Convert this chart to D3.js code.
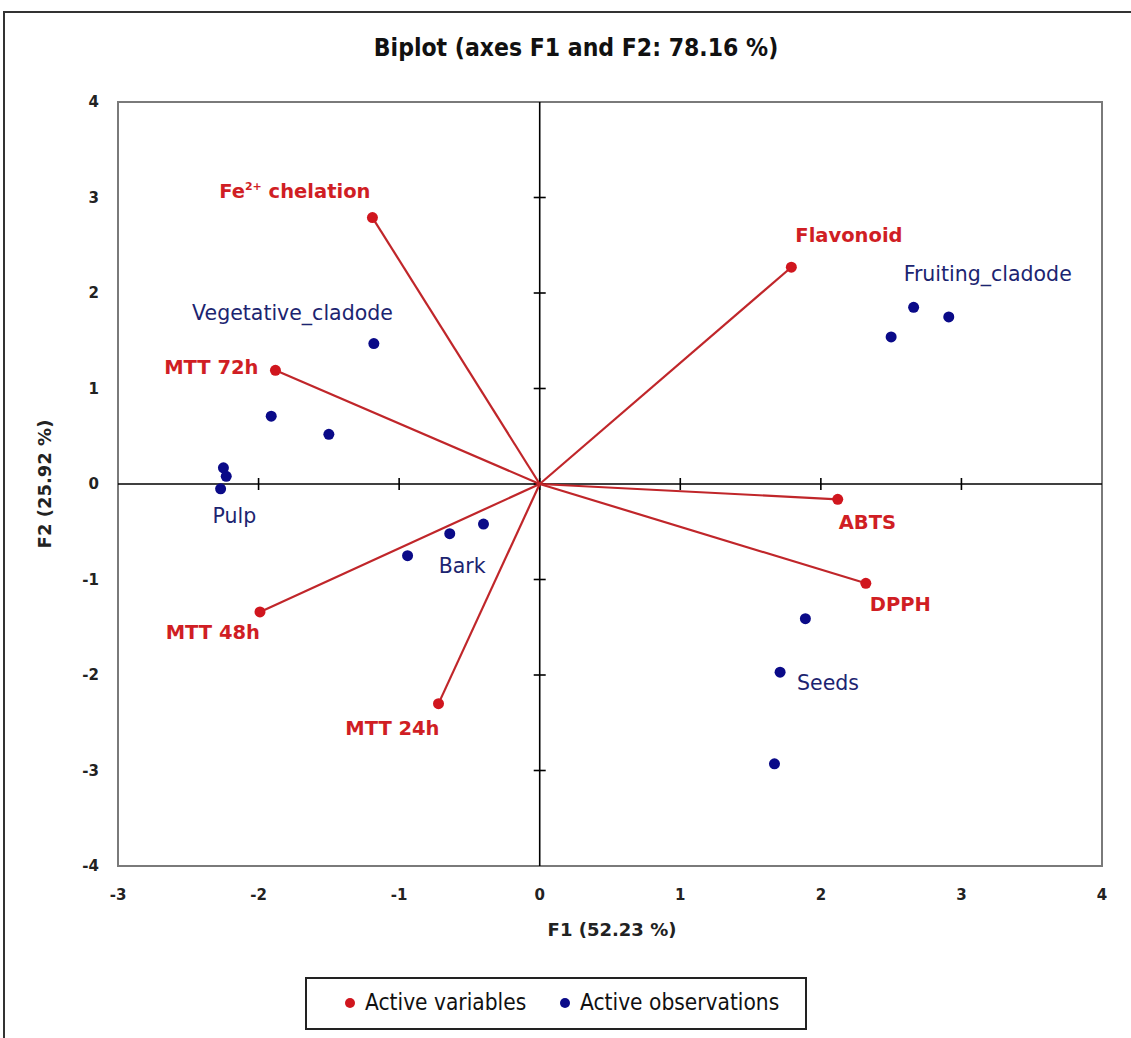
<!DOCTYPE html>
<html>
<head>
<meta charset="utf-8">
<script src="https://cdn.jsdelivr.net/npm/d3@7"></script>
<style>
  html, body { margin: 0; padding: 0; background: #fff; }
  svg { display: block; }
</style>
</head>
<body>
<svg id="chart" width="1131" height="1038"></svg>
<script>
// Active variables: PCA loadings on F1 / F2
const variableNames = ["Fe2+ chelation", "MTT 72h", "Flavonoid", "ABTS", "DPPH", "MTT 48h", "MTT 24h"];
const variableF1 = [-1.19, -1.88, 1.79, 2.12, 2.32, -1.99, -0.72];
const variableF2 = [2.79, 1.19, 2.27, -0.16, -1.04, -1.34, -2.30];

// Active observations: scores on F1 / F2, grouped by plant part
const observationGroup = [
  "Vegetative_cladode", "Vegetative_cladode", "Vegetative_cladode",
  "Pulp", "Pulp", "Pulp",
  "Bark", "Bark", "Bark",
  "Fruiting_cladode", "Fruiting_cladode", "Fruiting_cladode",
  "Seeds", "Seeds", "Seeds"
];
const observationF1 = [-1.18, -1.91, -1.50, -2.25, -2.23, -2.27, -0.40, -0.64, -0.94, 2.66, 2.91, 2.50, 1.89, 1.71, 1.67];
const observationF2 = [1.47, 0.71, 0.52, 0.17, 0.08, -0.05, -0.42, -0.52, -0.75, 1.85, 1.75, 1.54, -1.41, -1.97, -2.93];

// Axis ticks
const xTicks = [-3, -2, -1, 0, 1, 2, 3, 4];
const yTicks = [-4, -3, -2, -1, 0, 1, 2, 3, 4];

const titleText = "Biplot (axes F1 and F2: 78.16 %)";
const xTitle = "F1 (52.23 %)";
const yTitle = "F2 (25.92 %)";
const legendItems = ["Active variables", "Active observations"];

const RED = "#d0161e";
const LINE_RED = "#c0262a";
const BLUE = "#0a0a88";
const RED_TEXT = "#d01e24";
const BLUE_TEXT = "#1c2470";

const svg = d3.select("#chart");

const plot = { left: 118, right: 1102, top: 102, bottom: 866 };
const x = d3.scaleLinear().domain([-3, 4]).range([plot.left, plot.right]);
const y = d3.scaleLinear().domain([-4, 4]).range([plot.bottom, plot.top]);

// outer frame
svg.append("rect")
  .attr("x", 4).attr("y", 12)
  .attr("width", 1140).attr("height", 1040)
  .attr("fill", "none").attr("stroke", "#333").attr("stroke-width", 2);

// title
svg.append("text")
  .attr("x", 576).attr("y", 56)
  .attr("text-anchor", "middle")
  .attr("font-family", "'Liberation Sans Narrow', 'DejaVu Sans Condensed', Arial, sans-serif")
  .attr("font-weight", "bold")
  .attr("font-size", 24.5)
  .attr("fill", "#111")
  .text(titleText);

// plot frame
svg.append("rect")
  .attr("x", plot.left).attr("y", plot.top)
  .attr("width", plot.right - plot.left).attr("height", plot.bottom - plot.top)
  .attr("fill", "none").attr("stroke", "#7a7a7a").attr("stroke-width", 2);

// tick labels
const tickFont = "'DejaVu Sans', Verdana, sans-serif";
svg.append("g").selectAll("text").data(xTicks).join("text")
  .attr("x", d => x(d)).attr("y", 900)
  .attr("text-anchor", "middle")
  .attr("font-family", tickFont).attr("font-weight", "bold").attr("font-size", 15)
  .attr("fill", "#222")
  .text(d => d);

svg.append("g").selectAll("text").data(yTicks).join("text")
  .attr("x", 99).attr("y", d => y(d) + 5)
  .attr("text-anchor", "end")
  .attr("font-family", tickFont).attr("font-weight", "bold").attr("font-size", 15)
  .attr("fill", "#222")
  .text(d => d);

// zero axes with cross ticks
const zeroAxes = svg.append("g");
zeroAxes.append("line")
  .attr("x1", x(0)).attr("x2", x(0)).attr("y1", plot.top).attr("y2", plot.bottom)
  .attr("stroke", "#000").attr("stroke-width", 1.6);
zeroAxes.append("line")
  .attr("x1", plot.left).attr("x2", plot.right).attr("y1", y(0)).attr("y2", y(0))
  .attr("stroke", "#000").attr("stroke-width", 1.6);
zeroAxes.append("g").selectAll("line").data(yTicks.filter(d => d > -4 && d < 4)).join("line")
  .attr("x1", x(0) - 6).attr("x2", x(0) + 6)
  .attr("y1", d => y(d)).attr("y2", d => y(d))
  .attr("stroke", "#000").attr("stroke-width", 1.6);
zeroAxes.append("g").selectAll("line").data(xTicks.filter(d => d > -3 && d < 4)).join("line")
  .attr("x1", d => x(d)).attr("x2", d => x(d))
  .attr("y1", y(0) - 6).attr("y2", y(0) + 6)
  .attr("stroke", "#000").attr("stroke-width", 1.6);

// axis titles
svg.append("text")
  .attr("x", 612).attr("y", 936)
  .attr("text-anchor", "middle")
  .attr("font-family", tickFont).attr("font-weight", "bold").attr("font-size", 18)
  .attr("fill", "#222")
  .text(xTitle);
svg.append("text")
  .attr("transform", `translate(51, ${y(0)}) rotate(-90)`)
  .attr("text-anchor", "middle")
  .attr("font-family", tickFont).attr("font-weight", "bold").attr("font-size", 18)
  .attr("fill", "#222")
  .text(yTitle);

// variable vectors
const variables = variableNames.map((name, i) => ({ name, f1: variableF1[i], f2: variableF2[i] }));
const observations = observationGroup.map((g, i) => ({ group: g, f1: observationF1[i], f2: observationF2[i] }));

svg.append("g").selectAll("line").data(variables).join("line")
  .attr("x1", x(0)).attr("y1", y(0))
  .attr("x2", d => x(d.f1)).attr("y2", d => y(d.f2))
  .attr("stroke", LINE_RED).attr("stroke-width", 2.2);

svg.append("g").selectAll("circle").data(variables).join("circle")
  .attr("cx", d => x(d.f1)).attr("cy", d => y(d.f2)).attr("r", 5.5)
  .attr("fill", RED);

svg.append("g").selectAll("circle").data(observations).join("circle")
  .attr("cx", d => x(d.f1)).attr("cy", d => y(d.f2)).attr("r", 5.5)
  .attr("fill", BLUE);

// variable labels: offset from each vector tip
const varLabelPlacement = {
  "Fe2+ chelation": { dx: -2, dy: -20, anchor: "end" },
  "MTT 72h": { dx: -17, dy: 4, anchor: "end" },
  "Flavonoid": { dx: 4, dy: -25, anchor: "start" },
  "ABTS": { dx: 1, dy: 30, anchor: "start" },
  "DPPH": { dx: 4, dy: 28, anchor: "start" },
  "MTT 48h": { dx: 0, dy: 27, anchor: "end" },
  "MTT 24h": { dx: 1, dy: 31, anchor: "end" }
};
const labelFont = "'DejaVu Sans', Verdana, sans-serif";
const varLabels = svg.append("g").selectAll("text").data(variables).join("text")
  .attr("x", d => x(d.f1) + varLabelPlacement[d.name].dx)
  .attr("y", d => y(d.f2) + varLabelPlacement[d.name].dy)
  .attr("text-anchor", d => varLabelPlacement[d.name].anchor)
  .attr("font-family", labelFont).attr("font-weight", "bold").attr("font-size", 19.5)
  .attr("fill", RED_TEXT);
varLabels.each(function (d) {
  const t = d3.select(this);
  if (d.name === "Fe2+ chelation") {
    t.append("tspan").text("Fe");
    t.append("tspan").attr("font-size", 11).attr("dy", -8).text("2+");
    t.append("tspan").attr("dy", 8).text(" chelation");
  } else {
    t.text(d.name);
  }
});

// observation group labels: offset from an anchor point of the group
const groupLabelPlacement = {
  "Vegetative_cladode": { idx: 0, dx: 19, dy: -24, anchor: "end" },
  "Pulp": { idx: 5, dx: -8, dy: 34, anchor: "start" },
  "Bark": { idx: 7, dx: -11, dy: 39, anchor: "start" },
  "Fruiting_cladode": { idx: 9, dx: -10, dy: -26, anchor: "start" },
  "Seeds": { idx: 13, dx: 17, dy: 18, anchor: "start" }
};
const groups = Array.from(new Set(observationGroup));
svg.append("g").selectAll("text").data(groups).join("text")
  .attr("x", g => x(observations[groupLabelPlacement[g].idx].f1) + groupLabelPlacement[g].dx)
  .attr("y", g => y(observations[groupLabelPlacement[g].idx].f2) + groupLabelPlacement[g].dy)
  .attr("text-anchor", g => groupLabelPlacement[g].anchor)
  .attr("font-family", labelFont).attr("font-size", 20.5)
  .attr("fill", BLUE_TEXT)
  .text(g => g);

// legend
const legend = svg.append("g");
legend.append("rect")
  .attr("x", 306).attr("y", 978).attr("width", 500).attr("height", 51)
  .attr("fill", "#fff").attr("stroke", "#222").attr("stroke-width", 2);
const legendColors = [RED, BLUE];
const legendX = [350, 565];
legendItems.forEach((item, i) => {
  legend.append("circle").attr("cx", legendX[i]).attr("cy", 1003).attr("r", 5).attr("fill", legendColors[i]);
  legend.append("text")
    .attr("x", legendX[i] + 15).attr("y", 1010)
    .attr("font-family", "'Liberation Sans Narrow', 'DejaVu Sans Condensed', sans-serif")
    .attr("font-size", 22.5)
    .attr("fill", "#111")
    .text(item);
});
</script>
</body>
</html>
